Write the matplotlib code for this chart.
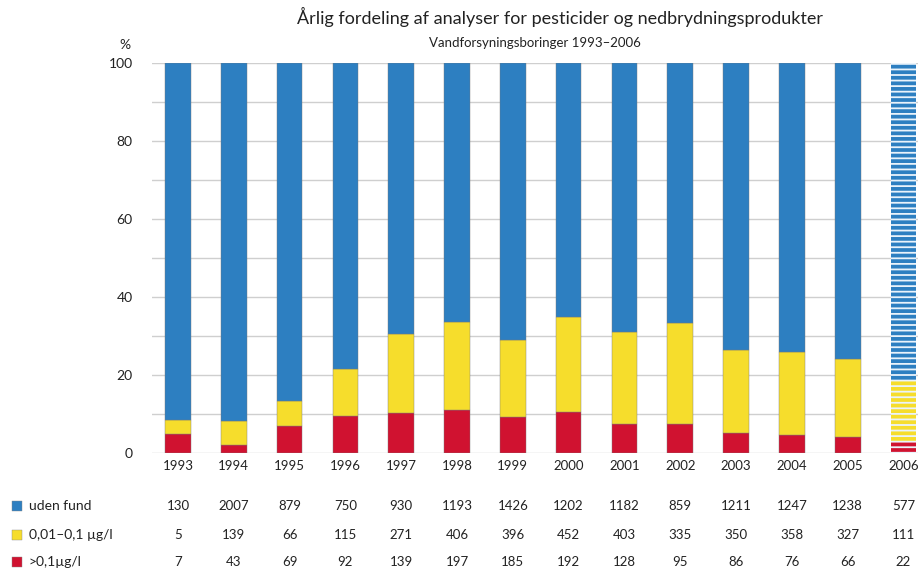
import numpy as np
import matplotlib
matplotlib.use("Agg")
import matplotlib.pyplot as plt
from matplotlib.patches import Rectangle
import matplotlib.transforms as mtransforms

plt.rcParams['font.family'] = ['Lato', 'DejaVu Sans']

years = ['1993', '1994', '1995', '1996', '1997', '1998', '1999',
         '2000', '2001', '2002', '2003', '2004', '2005', '2006']
uden_fund = [130, 2007, 879, 750, 930, 1193, 1426, 1202, 1182, 859, 1211, 1247, 1238, 577]
mellem = [5, 139, 66, 115, 271, 406, 396, 452, 403, 335, 350, 358, 327, 111]
over = [7, 43, 69, 92, 139, 197, 185, 192, 128, 95, 86, 76, 66, 22]
labels = ['uden fund', '0,01\u20130,1 \u00b5g/l', '>0,1\u00b5g/l']

c_blue = '#2d7fc1'
c_yellow = '#f6dd2c'
c_red = '#d01230'

counts = np.array([over, mellem, uden_fund], dtype=float)
pct = counts / counts.sum(axis=0) * 100

fig = plt.figure(figsize=(9.18, 5.68), dpi=100)
ax = fig.add_axes([152 / 918, 1 - 453 / 568, 1 - 152 / 918, 390 / 568])

x = np.arange(len(years))
w = 0.46
bottom = np.zeros(len(years))
plt.rcParams['hatch.linewidth'] = 1.3
for vals, col in zip(pct, [c_red, c_yellow, c_blue]):
    for i in range(len(years)):
        if i == len(years) - 1:
            # 2006: striped bar
            ax.bar(x[i], vals[i], w, bottom=bottom[i], color=col,
                   edgecolor='#eaf3fb', linewidth=0, hatch='---', zorder=2)
        else:
            ax.bar(x[i], vals[i], w, bottom=bottom[i], color=col,
                   edgecolor='#7a7a7a', linewidth=0.3, zorder=2)
    bottom += vals

ax.set_xlim(-0.465, 13.26)
ax.set_ylim(0, 100)
ax.set_yticks(np.arange(0, 101, 10))
ax.set_yticklabels([str(v) if v % 20 == 0 else '' for v in range(0, 101, 10)])
ax.yaxis.grid(True, color='#cfcfcf', linewidth=1)
ax.set_axisbelow(True)
for s in ax.spines.values():
    s.set_visible(False)
ax.tick_params(axis='y', length=0, pad=14, labelsize=10, colors='#222222')
ax.set_xticks(x)
ax.set_xticklabels(years)
ax.tick_params(axis='x', length=0, pad=5, labelsize=9.5, colors='#222222')

fig.text(125 / 918, 1 - 45 / 568, '%', ha='center', va='center', fontsize=10, color='#222222')

fig.text(560 / 918, 1 - 17 / 568, '\u00c5rlig fordeling af analyser for pesticider og nedbrydningsprodukter',
         ha='center', va='center', fontsize=13, color='#222222')
fig.text(535 / 918, 1 - 43 / 568, 'Vandforsyningsboringer 1993\u20132006',
         ha='center', va='center', fontsize=9.5, color='#222222')

# table below the chart
trans = mtransforms.blended_transform_factory(ax.transData, fig.transFigure)
rows = [uden_fund, mellem, over]
row_y = [1 - 506 / 568, 1 - 535 / 568, 1 - 562 / 568]
row_cols = [c_blue, c_yellow, c_red]
for vals, yy, col, lab in zip(rows, row_y, row_cols, labels):
    for i, v in enumerate(vals):
        ax.text(x[i], yy, str(v), transform=trans, ha='center', va='center',
                fontsize=9.5, color='#222222')
    fig.patches.append(Rectangle((12 / 918, yy - 5 / 568), 10 / 918, 10 / 568,
                                 transform=fig.transFigure, facecolor=col,
                                 edgecolor='#888888', linewidth=0.3))
    fig.text(29 / 918, yy, lab, ha='left', va='center', fontsize=10, color='#222222')

fig.savefig('out.png', dpi=100)
